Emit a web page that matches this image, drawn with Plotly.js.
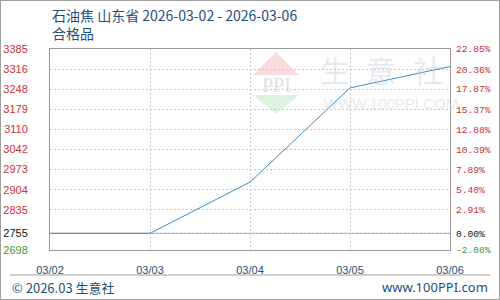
<!DOCTYPE html>
<html><head><meta charset="utf-8">
<script src="https://cdn.plot.ly/plotly-3.0.1.min.js"></script>
<style>html,body{margin:0;padding:0;background:#fff;}#chart{width:500px;height:300px;}
#frame{position:absolute;left:0;top:0;width:500px;height:300px;box-sizing:border-box;border:1px solid #a0a0a0;pointer-events:none;}</style>
</head><body><div id="chart"></div><div id="frame"></div>
<script>
var dates = ['03/02','03/03','03/04','03/05','03/06'];
var prices = [2755, 2755, 2930, 3252, 3325];
var leftTicks = [2698,2755,2835,2904,2973,3042,3110,3179,3248,3316,3385];
var rightTickText = ['-2.08%','0.00%','2.91%','5.40%','7.89%','10.39%','12.88%','15.37%','17.87%','20.36%','22.85%'];
var basePrice = 2755;
var titleLine1 = '石油焦 山东省 2026-03-02 - 2026-03-06';
var titleLine2 = '合格品';

var RED='#c8303c', GREEN='#3c9a3c', BLUE='#1e4f7c';
function col(v){ return v<basePrice?GREEN:(v===basePrice?'#111':RED); }
var leftText = leftTicks.map(function(v){return '<span style="color:'+col(v)+'">'+v+'</span>';});
var rightText = rightTickText.map(function(t,i){return '<span style="color:'+col(leftTicks[i])+'">'+t+'</span>';});

function px(x){return (x-50)/400;}
function py(y){return (250-y)/201;}
function ann(text, x, y, xanchor, font){
  return {text:text, xref:'paper', yref:'paper', x:px(x), y:py(y), xanchor:xanchor, yanchor:'middle', align:'left', showarrow:false, font:font};
}

var traces = [
 {x:dates, y:prices, type:'scatter', mode:'lines', line:{color:'#3a8cc4', width:1}, hoverinfo:'x+y', xaxis:'x', yaxis:'y'},
 {x:dates, y:prices, type:'scatter', mode:'lines', line:{color:'rgba(0,0,0,0)', width:0}, hoverinfo:'skip', xaxis:'x', yaxis:'y2', showlegend:false}
];

var wmCJK = {family:'"Noto Sans CJK SC", sans-serif', size:30, color:'rgba(190,198,215,0.4)'};
var layout = {
 width:500, height:300,
 margin:{l:50, r:50, t:49, b:50},
 paper_bgcolor:'#fff', plot_bgcolor:'#fff',
 showlegend:false,
 font:{family:'"Liberation Sans", Arial, sans-serif', size:11},
 xaxis:{type:'category', range:[0,4], showgrid:true, gridcolor:'#c8c8c8', griddash:'2px,2px', gridwidth:1,
   showline:true, linecolor:'#9a9a9a', mirror:true, ticks:'outside', ticklen:10, tickcolor:'rgba(0,0,0,0)',
   tickfont:{family:'"Liberation Sans", Arial, sans-serif', size:11, color:BLUE}, zeroline:false, fixedrange:true},
 yaxis:{range:[2698,3385], tickvals:leftTicks, ticktext:leftText, showgrid:true, gridcolor:'#c8c8c8', griddash:'2px,2px',
   showline:true, linecolor:'#9a9a9a', mirror:true, ticks:'outside', ticklen:19, tickcolor:'rgba(0,0,0,0)',
   tickfont:{family:'"Liberation Sans", Arial, sans-serif', size:11}, zeroline:false, fixedrange:true},
 yaxis2:{range:[2698,3385], overlaying:'y', side:'right', tickvals:leftTicks, ticktext:rightText, showgrid:false,
   ticks:'outside', ticklen:3, tickcolor:'rgba(0,0,0,0)', showline:false,
   tickfont:{family:'"Liberation Mono", "DejaVu Sans Mono", monospace', size:9.6}, zeroline:false, fixedrange:true},
 shapes:[
  {type:'line', xref:'paper', yref:'y', x0:0, x1:1, y0:basePrice, y1:basePrice, line:{color:'#9a9a9a', width:1}, layer:'below'},
  {type:'line', xref:'paper', yref:'paper', x0:px(10), x1:px(490), y0:py(275), y1:py(275), line:{color:'#a0a0a0', width:1}},
  {type:'path', xref:'paper', yref:'paper', path:'M '+px(276)+' '+py(52)+' L '+px(299)+' '+py(75)+' L '+px(253)+' '+py(75)+' Z',
   fillcolor:'rgba(240,140,140,0.3)', line:{width:0}, layer:'below'},
  {type:'path', xref:'paper', yref:'paper', path:'M '+px(253)+' '+py(95)+' L '+px(299)+' '+py(95)+' L '+px(276)+' '+py(114)+' Z',
   fillcolor:'rgba(150,210,150,0.3)', line:{width:0}, layer:'below'}
 ],
 annotations:[
  ann(titleLine1+'<br>'+titleLine2, 50, 24, 'left', {family:'"Noto Sans CJK SC", sans-serif', size:14, color:BLUE}),
  ann('PPI', 276, 85, 'center', {family:'"Liberation Serif", serif', size:20, color:'rgba(170,185,215,0.45)'}),
  ann('生', 335, 69, 'center', wmCJK),
  ann('意', 381, 69, 'center', wmCJK),
  ann('社', 428, 69, 'center', wmCJK),
  ann('WWW.100PPI.COM', 322, 103, 'left', {family:'"Liberation Sans", sans-serif', size:15, color:'rgba(200,200,200,0.4)'}),
  ann('© 2026.03 生意社', 10, 287, 'left', {family:'"Noto Sans CJK SC", sans-serif', size:13, color:BLUE}),
  ann('www.100PPI.com', 490, 287, 'right', {family:'"Noto Sans", sans-serif', size:13, color:BLUE})
 ]
};
Plotly.newPlot('chart', traces, layout, {displayModeBar:false, staticPlot:true});
</script></body></html>
